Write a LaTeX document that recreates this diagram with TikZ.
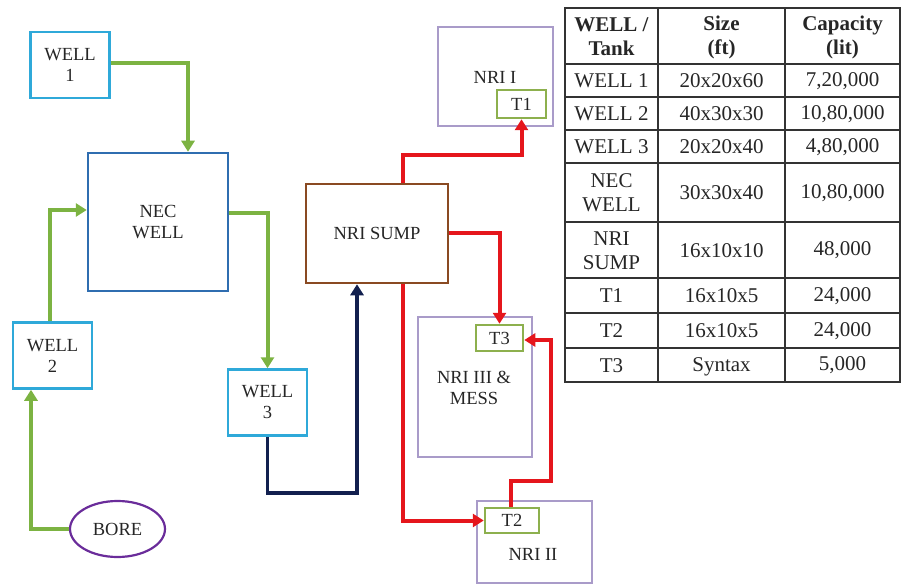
\documentclass[tikz,border=0pt]{standalone}
\usepackage{fontspec}
\setmainfont{Liberation Serif}
\usetikzlibrary{arrows.meta,shapes.geometric}
\definecolor{wellblue}{HTML}{2FA9D9}
\definecolor{necblue}{HTML}{2F6DB0}
\definecolor{flowgreen}{HTML}{7CB342}
\definecolor{flowred}{HTML}{E5161C}
\definecolor{flownavy}{HTML}{12204F}
\definecolor{sumpbrown}{HTML}{8A4A22}
\definecolor{nrilav}{HTML}{A99BC9}
\definecolor{tankgreen}{HTML}{8DB04E}
\definecolor{borepurple}{HTML}{6A2C9A}
\definecolor{tabline}{HTML}{333333}
\tikzset{
  lbl/.style={font=\fontsize{18.5}{21}\selectfont, text=black!85, align=center, inner sep=0pt},
  wellbox/.style={lbl, draw=wellblue, line width=2.5pt, minimum width=79pt, minimum height=66pt},
  necbox/.style={lbl, draw=necblue, line width=2.5pt, minimum width=140pt, minimum height=138pt},
  sumpbox/.style={lbl, draw=sumpbrown, line width=2.5pt, minimum width=142pt, minimum height=99pt},
  nribox/.style={lbl, draw=nrilav, line width=2.2pt},
  tankbox/.style={lbl, draw=tankgreen, line width=2.5pt},
  borebox/.style={lbl, ellipse, draw=borepurple, line width=2.2pt, minimum width=95pt, minimum height=56pt},
  tip/.style={-{Triangle[length=11pt,width=13pt]}},
  gline/.style={tip, draw=flowgreen, line width=4pt},
  rline/.style={tip, draw=flowred, line width=4pt},
  nline/.style={tip, draw=flownavy, line width=3.2pt},
  tcell/.style={font=\fontsize{21}{24}\selectfont, text=black!85, align=center, inner sep=0pt},
  thead/.style={tcell, font=\fontsize{21}{24}\selectfont\bfseries},
  tgrid/.style={draw=tabline, line width=1.6pt}
}
\begin{document}
\begin{tikzpicture}[x=1pt,y=-1pt]
\useasboundingbox (0,0) rectangle (904,585);

% nodes
\node[wellbox] (w1) at (70,65) {WELL\\1};
\node[necbox] (nec) at (158,222) {NEC\\WELL};
\node[wellbox] (w2) at (52.5,355.5) {WELL\\2};
\node[wellbox] (w3) at (267.5,402.5) {WELL\\3};
\node[borebox] (bore) at (117.5,529) {BORE};
\node[sumpbox] (sump) at (377,233.5) {NRI SUMP};

\node[nribox, minimum width=115pt, minimum height=99pt] (nri1) at (495.5,76.5) {};
\node[lbl] (nri1l) at (495,77) {NRI I};
\node[tankbox, minimum width=49pt, minimum height=28pt] (t1) at (521.5,104) {T1};

\node[nribox, minimum width=114pt, minimum height=140pt] (nri3) at (475,387) {};
\node[lbl] (nri3l) at (474,388) {NRI III \&\\MESS};
\node[tankbox, minimum width=47pt, minimum height=26pt] (t3) at (499.5,338) {T3};

\node[nribox, minimum width=115pt, minimum height=82pt] (nri2) at (534.5,542) {};
\node[lbl] (nri2l) at (533,554) {NRI II};
\node[tankbox, minimum width=54pt, minimum height=25pt] (t2) at (512,520.5) {T2};

% bend coordinates
\coordinate (nv) at (357,493);
\coordinate (r1) at (403,155);
\coordinate (r2) at (551,481);

% connectors
\draw[gline] ([yshift=2pt]w1.east) -| ([xshift=30pt]nec.north);
\draw[gline] ([xshift=-2.5pt]w2.north) |- ([yshift=12pt]nec.west);
\draw[gline] ([yshift=9pt]nec.east) -| (w3.north);
\draw[gline] (bore.west) -| ([xshift=-21.5pt]w2.south);
\draw[nline] (w3.south) |- (nv) -- ([xshift=-20pt]sump.south);
\draw[rline] ([xshift=26pt]sump.north) |- (r1) -| (t1.south);
\draw[rline] (sump.east) -| (t3.north);
\draw[rline] ([xshift=26pt]sump.south) |- (t2.west);
\draw[rline] ([xshift=-1pt]t2.north) |- (r2) |- ([yshift=-2pt]t3.east);

% table
\draw[tgrid] (565,8) rectangle (900,382);
\foreach \xx in {658,785} \draw[tgrid] (\xx,8) -- (\xx,382);
\foreach \yy in {64,97,130,163,222,278,313,348} \draw[tgrid] (565,\yy) -- (900,\yy);

\node[thead] (h1) at (611.5,37) {WELL /\\Tank};
\node[thead] (h2) at (721.5,37) {Size\\(ft)};
\node[thead] (h3) at (842.5,37) {Capacity\\(lit)};

\node[tcell] (a1) at (611.5,81) {WELL 1};
\node[tcell] (b1) at (721.5,81) {20x20x60};
\node[tcell] (c1) at (842.5,81) {7,20,000};

\node[tcell] (a2) at (611.5,114) {WELL 2};
\node[tcell] (b2) at (721.5,114) {40x30x30};
\node[tcell] (c2) at (842.5,114) {10,80,000};

\node[tcell] (a3) at (611.5,147) {WELL 3};
\node[tcell] (b3) at (721.5,147) {20x20x40};
\node[tcell] (c3) at (842.5,147) {4,80,000};

\node[tcell] (a4) at (611.5,193) {NEC\\WELL};
\node[tcell] (b4) at (721.5,193) {30x30x40};
\node[tcell] (c4) at (842.5,193) {10,80,000};

\node[tcell] (a5) at (611.5,250.5) {NRI\\SUMP};
\node[tcell] (b5) at (721.5,250.5) {16x10x10};
\node[tcell] (c5) at (842.5,250.5) {48,000};

\node[tcell] (a6) at (611.5,296) {T1};
\node[tcell] (b6) at (721.5,296) {16x10x5};
\node[tcell] (c6) at (842.5,296) {24,000};

\node[tcell] (a7) at (611.5,331) {T2};
\node[tcell] (b7) at (721.5,331) {16x10x5};
\node[tcell] (c7) at (842.5,331) {24,000};

\node[tcell] (a8) at (611.5,365.5) {T3};
\node[tcell] (b8) at (721.5,366.5) {Syntax};
\node[tcell] (c8) at (842.5,365.5) {5,000};
\end{tikzpicture}
\end{document}
